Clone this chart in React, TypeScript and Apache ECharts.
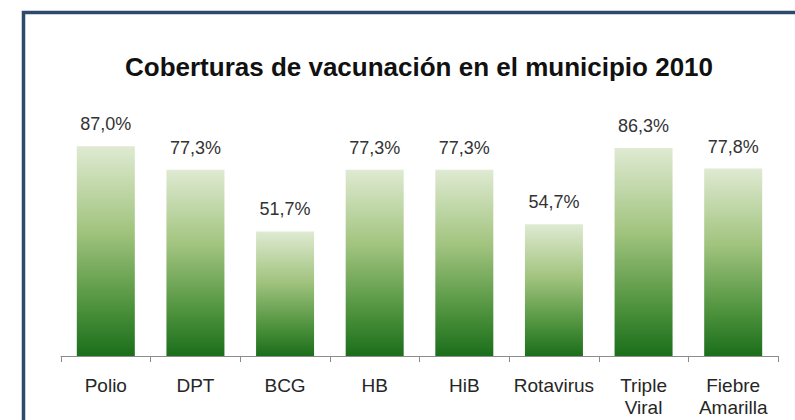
import React, { useEffect, useRef } from "react";
import * as echarts from "echarts";

const titleText = "Coberturas de vacunación en el municipio 2010";
const categories = ["Polio", "DPT", "BCG", "HB", "HiB", "Rotavirus", "Triple\nViral", "Fiebre\nAmarilla"];
const coverage = [87.0, 77.3, 51.7, 77.3, 77.3, 54.7, 86.3, 77.8];

export default function App() {
  const ref = useRef<HTMLDivElement>(null);
  useEffect(() => {
    if (!ref.current) return;
    const chart = echarts.init(ref.current, null, { renderer: "svg" });
    const font = "Arial, 'Liberation Sans', sans-serif";
    chart.setOption({
      animation: false,
      backgroundColor: "#ffffff",
      grid: { left: 61, right: 17, top: 115, bottom: 64 },
      graphic: [
        {
          type: "rect",
          shape: { x: 23.5, y: 12.5, width: 820, height: 440 },
          style: { fill: "none", stroke: "#2d4a6d", lineWidth: 3.5 },
          z: 10,
        },
        {
          type: "text",
          x: 419,
          y: 67,
          style: {
            text: titleText,
            fill: "#111111",
            font: `bold 26px ${font}`,
            textAlign: "center",
            textVerticalAlign: "middle",
          },
        },
      ],
      xAxis: {
        type: "category",
        data: categories,
        boundaryGap: true,
        axisLine: { show: true, lineStyle: { color: "#8c8c8c", width: 1 } },
        axisTick: { show: true, length: 6, lineStyle: { color: "#8c8c8c" } },
        axisLabel: {
          color: "#262626",
          fontSize: 19,
          fontFamily: font,
          lineHeight: 22,
          margin: 18,
          interval: 0,
        },
      },
      yAxis: {
        type: "value",
        min: 0,
        max: 100,
        show: false,
        splitLine: { show: false },
      },
      series: [
        {
          type: "bar",
          data: coverage,
          barWidth: 58,
          itemStyle: {
            color: new echarts.graphic.LinearGradient(0, 0, 0, 1, [
              { offset: 0, color: "#dfead2" },
              { offset: 0.4, color: "#a2c47f" },
              { offset: 0.75, color: "#51943f" },
              { offset: 1, color: "#1b6e1b" },
            ]),
          },
          label: {
            show: true,
            position: "top",
            distance: 13,
            color: "#333333",
            fontSize: 18,
            fontFamily: font,
            formatter: (p: any) => p.value.toFixed(1).replace(".", ",") + "%",
          },
        },
      ],
    });
    return () => chart.dispose();
  }, []);
  return (
    <div
      ref={ref}
      style={{ position: "fixed", left: 0, top: 0, width: 795, height: 420, background: "#fff" }}
    />
  );
}
